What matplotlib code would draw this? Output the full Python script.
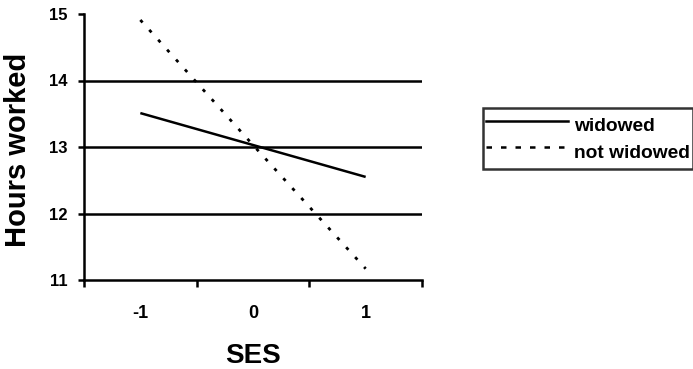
import matplotlib
matplotlib.use("Agg")
import matplotlib.pyplot as plt
from matplotlib.lines import Line2D

# data
ses_levels = [-1, 0, 1]
ses_labels = ["-1", "0", "1"]
widowed = [13.51, 13.03, 12.55]
not_widowed = [14.91, 13.03, 11.17]
y_ticks = [11, 12, 13, 14, 15]

plt.rcParams["font.family"] = ["Liberation Sans", "DejaVu Sans"]
plt.rcParams["font.weight"] = "bold"

fig = plt.figure(figsize=(6.93, 3.69), dpi=100)
ax = fig.add_axes([84 / 693, 1 - 280 / 369, 338 / 693, 266 / 369])

lw = 1.8
ax.plot(ses_levels, widowed, color="black", lw=lw, solid_capstyle="butt", zorder=3)
ax.plot(ses_levels, not_widowed, color="black", lw=2.0,
        linestyle=(0, (1.2, 3.6)), dash_capstyle="butt", zorder=3)

# horizontal gridlines
for yv in y_ticks[1:-1]:
    ax.axhline(yv, color="black", lw=lw, zorder=1)

ax.set_xlim(-1.5, 1.5)
ax.set_ylim(11, 15)

for side in ("top", "right"):
    ax.spines[side].set_visible(False)
for side in ("left", "bottom"):
    ax.spines[side].set_linewidth(lw)
    ax.spines[side].set_color("black")

# category boundaries as major ticks, labels on minor ticks
ax.set_xticks([-1.5, -0.5, 0.5, 1.5])
ax.set_xticklabels([])
ax.set_xticks(ses_levels, minor=True)
ax.set_xticklabels(ses_labels, minor=True, fontsize=13, fontweight="bold")
ax.tick_params(axis="x", which="major", direction="out", length=5, width=lw)
ax.tick_params(axis="x", which="minor", length=0, pad=18)

ax.set_yticks(y_ticks)
ax.set_yticklabels([str(v) for v in y_ticks], fontsize=12, fontweight="bold")
ax.tick_params(axis="y", direction="out", length=4, width=lw, pad=8)

ax.set_xlabel("SES", fontsize=20, fontweight="bold")
ax.xaxis.set_label_coords(0.5, -0.238)
ax.set_ylabel("Hours worked", fontsize=21, fontweight="bold")
ax.yaxis.set_label_coords(-0.155, 0.49)

handles = [
    Line2D([], [], color="black", lw=lw),
    Line2D([], [], color="black", lw=lw, linestyle=(0, (2.2, 3.6))),
]
leg = fig.legend(handles, ["widowed", "not widowed"],
                 loc="upper left", bbox_to_anchor=(483 / 693, 1 - 108 / 369),
                 borderaxespad=0, frameon=True, fancybox=False,
                 handlelength=4.3, handletextpad=0.3, labelspacing=-0.1,
                 handleheight=1.9, borderpad=0.15,
                 prop={"size": 13.8, "weight": "bold"})
leg.get_frame().set_edgecolor("black")
leg.get_frame().set_linewidth(lw)

fig.savefig("out.png", dpi=100)
